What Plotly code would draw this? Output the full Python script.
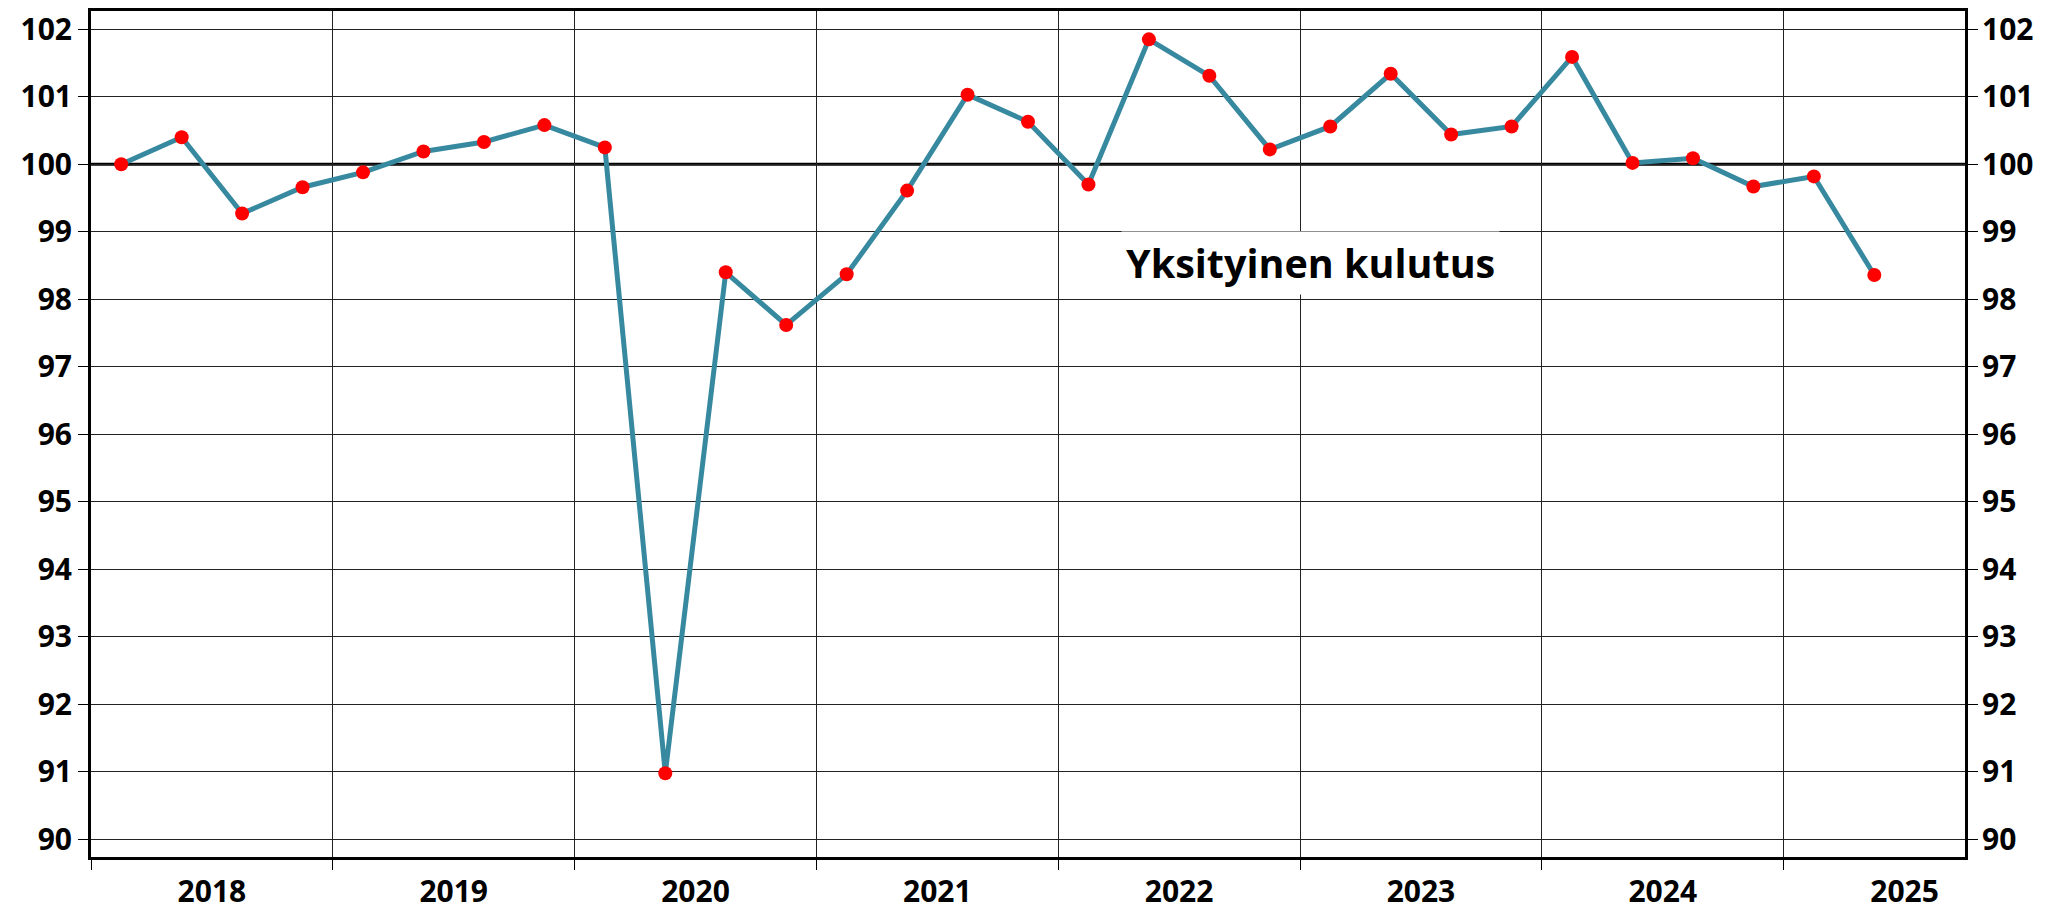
import plotly.graph_objects as go

# ---- data ----
years = [2018, 2019, 2020, 2021, 2022, 2023, 2024, 2025]
quarters = [
    "2018Q1", "2018Q2", "2018Q3", "2018Q4",
    "2019Q1", "2019Q2", "2019Q3", "2019Q4",
    "2020Q1", "2020Q2", "2020Q3", "2020Q4",
    "2021Q1", "2021Q2", "2021Q3", "2021Q4",
    "2022Q1", "2022Q2", "2022Q3", "2022Q4",
    "2023Q1", "2023Q2", "2023Q3", "2023Q4",
    "2024Q1", "2024Q2", "2024Q3", "2024Q4",
    "2025Q1", "2025Q2",
]
values = [
    100.00, 100.40, 99.27, 99.66,
    99.88, 100.19, 100.33, 100.58,
    100.25, 90.98, 98.40, 97.62,
    98.37, 99.61, 101.03, 100.63,
    99.70, 101.85, 101.31, 100.22,
    100.56, 101.34, 100.44, 100.56,
    101.59, 100.02, 100.09, 99.67,
    99.82, 98.36,
]
y_ticks = list(range(90, 103))
base_level = 100
series_label = "Yksityinen kulutus"
label_pos = (19.67, 98.54)

# ---- derived positions ----
idx = list(range(len(quarters)))
boundaries = [4 * k - 0.5 for k in range(len(years))]
year_centers = [4 * k + 1.5 for k in range(len(years))]
x_range = [-0.5, 4 * len(years) - 1.5]
y_range = [89.74, 102.27]

FONT = "Open Sans"
tickfont = dict(family=FONT, size=30, color="black", weight="bold")
GRID = "#222222"

fig = go.Figure()
fig.add_trace(go.Scatter(
    x=idx, y=values, mode="lines+markers",
    line=dict(color="#3789A0", width=5),
    marker=dict(color="#FF0000", size=14),
    showlegend=False, hoverinfo="skip",
))
# invisible companion trace for the right-hand axis
fig.add_trace(go.Scatter(
    x=idx, y=values, yaxis="y2", mode="lines",
    line=dict(width=0), opacity=0, showlegend=False, hoverinfo="skip",
))

fig.add_shape(type="line", xref="paper", x0=0, x1=1, yref="y",
              y0=base_level, y1=base_level,
              line=dict(color="black", width=3), layer="between")

fig.add_annotation(
    x=label_pos[0], y=label_pos[1], xref="x", yref="y",
    text=series_label, showarrow=False,
    font=dict(family=FONT, size=39.5, color="black", weight="bold"),
    bgcolor="white", borderpad=4,
)

# The page body adds an 8px offset, so the figure is sized to fit the window.
fig.update_layout(
    width=2044, height=897,
    margin=dict(l=83, r=87, t=3, b=48, autoexpand=False),
    paper_bgcolor="white", plot_bgcolor="white",
    xaxis=dict(
        range=x_range, tickmode="array", tickvals=year_centers,
        ticktext=[str(y) for y in years],
        ticks="outside", ticklen=6, tickcolor="rgba(0,0,0,0)",
        showgrid=False, zeroline=False, automargin=False,
        ticklabeloverflow="allow",
        showline=True, linewidth=3, linecolor="black", mirror=True,
        tickfont=tickfont,
        minor=dict(tickmode="array", tickvals=boundaries, ticks="outside",
                   ticklen=10, tickwidth=1, tickcolor="black",
                   showgrid=True, gridcolor=GRID, gridwidth=1),
    ),
    yaxis=dict(
        range=y_range, tickmode="array", tickvals=y_ticks,
        ticks="outside", ticklen=10, tickwidth=1, tickcolor="black",
        showgrid=True, gridcolor=GRID, gridwidth=1, zeroline=False,
        showline=True, linewidth=3, linecolor="black", mirror="ticks",
        tickfont=tickfont, automargin=False, ticklabeloverflow="allow",
    ),
    yaxis2=dict(
        range=y_range, overlaying="y", side="right",
        tickmode="array", tickvals=y_ticks,
        ticks="outside", ticklen=10, tickcolor="rgba(0,0,0,0)",
        showgrid=False, zeroline=False, showline=False,
        tickfont=tickfont, automargin=False, ticklabeloverflow="allow",
    ),
)

fig.write_html("out.html")
